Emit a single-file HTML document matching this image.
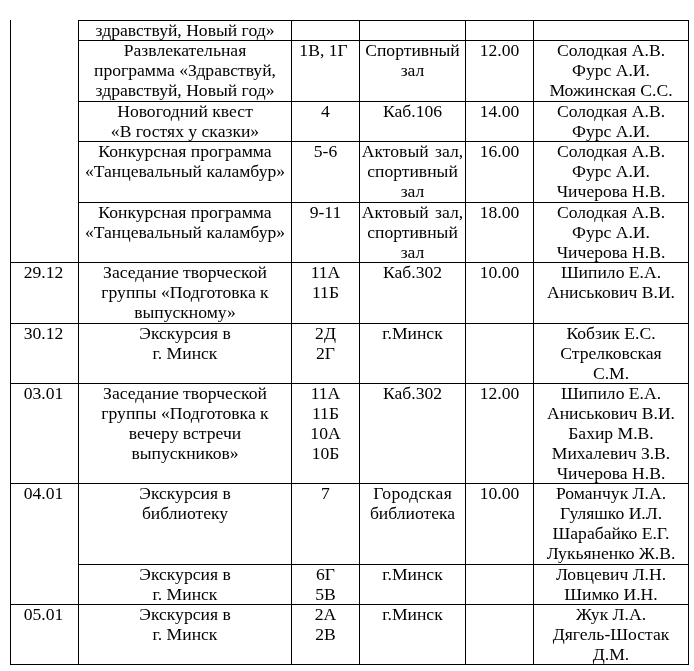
<!DOCTYPE html>
<html><head><meta charset="utf-8"><style>
html,body{margin:0;padding:0;background:#fff;}
body{width:694px;height:671px;position:relative;overflow:hidden;}
#w{position:absolute;left:0;top:0;width:694px;height:671px;will-change:transform;}
.v{position:absolute;width:1px;background:#000;}
.h{position:absolute;height:1px;background:#000;}
.t{position:absolute;font-family:"Liberation Serif",serif;font-size:17.6px;line-height:20px;height:20px;text-align:center;white-space:nowrap;color:#000;}
</style></head><body><div id="w">

<div class="v" style="left:10px;top:20px;height:645px"></div>
<div class="v" style="left:78px;top:20px;height:645px"></div>
<div class="v" style="left:291px;top:20px;height:645px"></div>
<div class="v" style="left:359px;top:20px;height:645px"></div>
<div class="v" style="left:465px;top:20px;height:645px"></div>
<div class="v" style="left:533px;top:20px;height:645px"></div>
<div class="v" style="left:688px;top:20px;height:645px"></div>
<div class="h" style="left:78px;top:20px;width:611px"></div>
<div class="h" style="left:78px;top:40px;width:611px"></div>
<div class="h" style="left:78px;top:101px;width:611px"></div>
<div class="h" style="left:78px;top:141px;width:611px"></div>
<div class="h" style="left:78px;top:202px;width:611px"></div>
<div class="h" style="left:10px;top:262px;width:679px"></div>
<div class="h" style="left:10px;top:323px;width:679px"></div>
<div class="h" style="left:10px;top:383px;width:679px"></div>
<div class="h" style="left:10px;top:483px;width:679px"></div>
<div class="h" style="left:78px;top:564px;width:611px"></div>
<div class="h" style="left:10px;top:604px;width:679px"></div>
<div class="h" style="left:10px;top:664px;width:679px"></div>
<div class="t" style="left:79px;width:212px;top:19.60px;">здравствуй, Новый год»</div>
<div class="t" style="left:79px;width:212px;top:39.60px;">Развлекательная</div>
<div class="t" style="left:79px;width:212px;top:59.60px;">программа «Здравствуй,</div>
<div class="t" style="left:79px;width:212px;top:79.60px;">здравствуй, Новый год»</div>
<div class="t" style="left:290px;width:67px;top:39.60px;">1В, 1Г</div>
<div class="t" style="left:360px;width:105px;top:39.60px;">Спортивный</div>
<div class="t" style="left:360px;width:105px;top:59.60px;">зал</div>
<div class="t" style="left:466px;width:67px;top:39.60px;">12.00</div>
<div class="t" style="left:534px;width:154px;top:39.60px;">Солодкая А.В.</div>
<div class="t" style="left:534px;width:154px;top:59.60px;">Фурс А.И.</div>
<div class="t" style="left:534px;width:154px;top:79.60px;">Можинская С.С.</div>
<div class="t" style="left:79px;width:212px;top:100.60px;">Новогодний квест</div>
<div class="t" style="left:79px;width:212px;top:120.60px;">«В гостях у сказки»</div>
<div class="t" style="left:292px;width:67px;top:100.60px;">4</div>
<div class="t" style="left:360px;width:105px;top:100.60px;">Каб.106</div>
<div class="t" style="left:466px;width:67px;top:100.60px;">14.00</div>
<div class="t" style="left:534px;width:154px;top:100.60px;">Солодкая А.В.</div>
<div class="t" style="left:534px;width:154px;top:120.60px;">Фурс А.И.</div>
<div class="t" style="left:79px;width:212px;top:140.60px;">Конкурсная программа</div>
<div class="t" style="left:79px;width:212px;top:160.60px;">«Танцевальный каламбур»</div>
<div class="t" style="left:292px;width:67px;top:140.60px;">5-6</div>
<div class="t" style="left:360px;width:105px;top:140.60px;word-spacing:2px;">Актовый зал,</div>
<div class="t" style="left:360px;width:105px;top:160.60px;">спортивный</div>
<div class="t" style="left:360px;width:105px;top:180.60px;">зал</div>
<div class="t" style="left:466px;width:67px;top:140.60px;">16.00</div>
<div class="t" style="left:534px;width:154px;top:140.60px;">Солодкая А.В.</div>
<div class="t" style="left:534px;width:154px;top:160.60px;">Фурс А.И.</div>
<div class="t" style="left:534px;width:154px;top:180.60px;">Чичерова Н.В.</div>
<div class="t" style="left:79px;width:212px;top:201.60px;">Конкурсная программа</div>
<div class="t" style="left:79px;width:212px;top:221.60px;">«Танцевальный каламбур»</div>
<div class="t" style="left:292px;width:67px;top:201.60px;">9-11</div>
<div class="t" style="left:360px;width:105px;top:201.60px;word-spacing:2px;">Актовый зал,</div>
<div class="t" style="left:360px;width:105px;top:221.60px;">спортивный</div>
<div class="t" style="left:360px;width:105px;top:241.60px;">зал</div>
<div class="t" style="left:466px;width:67px;top:201.60px;">18.00</div>
<div class="t" style="left:534px;width:154px;top:201.60px;">Солодкая А.В.</div>
<div class="t" style="left:534px;width:154px;top:221.60px;">Фурс А.И.</div>
<div class="t" style="left:534px;width:154px;top:241.60px;">Чичерова Н.В.</div>
<div class="t" style="left:10px;width:67px;top:261.60px;">29.12</div>
<div class="t" style="left:79px;width:212px;top:261.60px;">Заседание творческой</div>
<div class="t" style="left:79px;width:212px;top:281.60px;">группы «Подготовка к</div>
<div class="t" style="left:79px;width:212px;top:301.60px;">выпускному»</div>
<div class="t" style="left:292px;width:67px;top:261.60px;">11А</div>
<div class="t" style="left:292px;width:67px;top:281.60px;">11Б</div>
<div class="t" style="left:360px;width:105px;top:261.60px;">Каб.302</div>
<div class="t" style="left:466px;width:67px;top:261.60px;">10.00</div>
<div class="t" style="left:534px;width:154px;top:261.60px;">Шипило Е.А.</div>
<div class="t" style="left:534px;width:154px;top:281.60px;">Аниськович В.И.</div>
<div class="t" style="left:10px;width:67px;top:322.60px;">30.12</div>
<div class="t" style="left:79px;width:212px;top:322.60px;">Экскурсия в</div>
<div class="t" style="left:79px;width:212px;top:342.60px;">г. Минск</div>
<div class="t" style="left:292px;width:67px;top:322.60px;">2Д</div>
<div class="t" style="left:292px;width:67px;top:342.60px;">2Г</div>
<div class="t" style="left:360px;width:105px;top:322.60px;">г.Минск</div>
<div class="t" style="left:534px;width:154px;top:322.60px;">Кобзик Е.С.</div>
<div class="t" style="left:534px;width:154px;top:342.60px;">Стрелковская</div>
<div class="t" style="left:534px;width:154px;top:362.60px;">С.М.</div>
<div class="t" style="left:10px;width:67px;top:382.60px;">03.01</div>
<div class="t" style="left:79px;width:212px;top:382.60px;">Заседание творческой</div>
<div class="t" style="left:79px;width:212px;top:402.60px;">группы «Подготовка к</div>
<div class="t" style="left:79px;width:212px;top:422.60px;">вечеру встречи</div>
<div class="t" style="left:79px;width:212px;top:442.60px;">выпускников»</div>
<div class="t" style="left:292px;width:67px;top:382.60px;">11А</div>
<div class="t" style="left:292px;width:67px;top:402.60px;">11Б</div>
<div class="t" style="left:292px;width:67px;top:422.60px;">10А</div>
<div class="t" style="left:292px;width:67px;top:442.60px;">10Б</div>
<div class="t" style="left:360px;width:105px;top:382.60px;">Каб.302</div>
<div class="t" style="left:466px;width:67px;top:382.60px;">12.00</div>
<div class="t" style="left:534px;width:154px;top:382.60px;">Шипило Е.А.</div>
<div class="t" style="left:534px;width:154px;top:402.60px;">Аниськович В.И.</div>
<div class="t" style="left:534px;width:154px;top:422.60px;">Бахир М.В.</div>
<div class="t" style="left:534px;width:154px;top:442.60px;">Михалевич З.В.</div>
<div class="t" style="left:534px;width:154px;top:462.60px;">Чичерова Н.В.</div>
<div class="t" style="left:10px;width:67px;top:482.60px;">04.01</div>
<div class="t" style="left:79px;width:212px;top:482.60px;">Экскурсия в</div>
<div class="t" style="left:79px;width:212px;top:502.60px;">библиотеку</div>
<div class="t" style="left:292px;width:67px;top:482.60px;">7</div>
<div class="t" style="left:360px;width:105px;top:482.60px;letter-spacing:0.4px;text-indent:0.4px;">Городская</div>
<div class="t" style="left:360px;width:105px;top:502.60px;">библиотека</div>
<div class="t" style="left:466px;width:67px;top:482.60px;">10.00</div>
<div class="t" style="left:534px;width:154px;top:482.60px;">Романчук Л.А.</div>
<div class="t" style="left:534px;width:154px;top:502.60px;">Гуляшко И.Л.</div>
<div class="t" style="left:534px;width:154px;top:522.60px;">Шарабайко Е.Г.</div>
<div class="t" style="left:534px;width:154px;top:542.60px;">Лукьяненко Ж.В.</div>
<div class="t" style="left:79px;width:212px;top:563.60px;">Экскурсия в</div>
<div class="t" style="left:79px;width:212px;top:583.60px;">г. Минск</div>
<div class="t" style="left:292px;width:67px;top:563.60px;">6Г</div>
<div class="t" style="left:292px;width:67px;top:583.60px;">5В</div>
<div class="t" style="left:360px;width:105px;top:563.60px;">г.Минск</div>
<div class="t" style="left:534px;width:154px;top:563.60px;">Ловцевич Л.Н.</div>
<div class="t" style="left:534px;width:154px;top:583.60px;">Шимко И.Н.</div>
<div class="t" style="left:10px;width:67px;top:603.60px;">05.01</div>
<div class="t" style="left:79px;width:212px;top:603.60px;">Экскурсия в</div>
<div class="t" style="left:79px;width:212px;top:623.60px;">г. Минск</div>
<div class="t" style="left:292px;width:67px;top:603.60px;">2А</div>
<div class="t" style="left:292px;width:67px;top:623.60px;">2В</div>
<div class="t" style="left:360px;width:105px;top:603.60px;">г.Минск</div>
<div class="t" style="left:534px;width:154px;top:603.60px;">Жук Л.А.</div>
<div class="t" style="left:534px;width:154px;top:623.60px;">Дягель-Шостак</div>
<div class="t" style="left:534px;width:154px;top:643.60px;">Д.М.</div>
</div></body></html>
